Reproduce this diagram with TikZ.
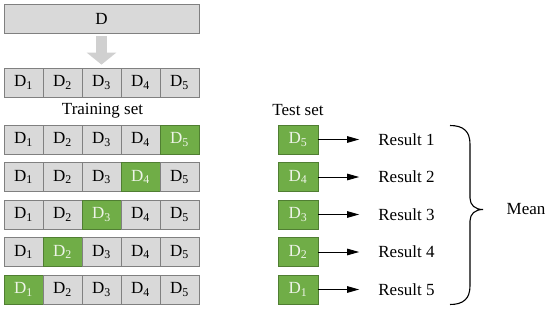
\documentclass[tikz,border=0pt]{standalone}
\usepackage{fontspec}
\setmainfont{Liberation Serif}
\usepackage{tikz}
\usetikzlibrary{positioning, arrows.meta}
\definecolor{cellgray}{HTML}{D9D9D9}
\definecolor{cellborder}{HTML}{808080}
\definecolor{cellgreen}{HTML}{70AD47}
\definecolor{greenborder}{HTML}{507E32}
\definecolor{greentext}{HTML}{EEF4E8}
\definecolor{arrowgray}{HTML}{D0D0D0}
\tikzstyle{gray_cell}=[rectangle, draw=cellborder, fill=cellgray, line width=0.8pt, minimum width=39pt, minimum height=29pt, inner sep=0pt]
\tikzstyle{green_cell}=[gray_cell, draw=greenborder, fill=cellgreen, text=greentext]
\tikzstyle{result_arrow}=[-{Triangle[length=12pt, width=6.5pt]}, line width=0.9pt, shorten >=19pt]

\begin{document}
\begin{tikzpicture}[x=1pt, y=-1pt, font=\fontsize{17}{20}\selectfont]
    \useasboundingbox (0,0) rectangle (550,311);

    \node[gray_cell, minimum width=195pt] at (101.5, 18.5) (D) {D};

    \node[gray_cell] at ( 23.5, 82.5) (p1) {D\textsubscript{1}};
    \node[gray_cell] at ( 62.5, 82.5) (p2) {D\textsubscript{2}};
    \node[gray_cell] at (101.5, 82.5) (p3) {D\textsubscript{3}};
    \node[gray_cell] at (140.5, 82.5) (p4) {D\textsubscript{4}};
    \node[gray_cell] at (179.5, 82.5) (p5) {D\textsubscript{5}};

    \draw[line width=11pt, color=arrowgray, -{Triangle[length=12pt, width=29pt]}, shorten <=3pt, shorten >=3pt] (D.south) -- (p3.north);

    \node[inner sep=0pt] at (102.5, 110.5) (train) {Training set};
    \node[inner sep=0pt] at (298, 110.5) (test) {Test set};

    % folds
    \node[gray_cell] at ( 23.5, 139.5) (f1_1) {D\textsubscript{1}};
    \node[gray_cell] at ( 62.5, 139.5) (f1_2) {D\textsubscript{2}};
    \node[gray_cell] at (101.5, 139.5) (f1_3) {D\textsubscript{3}};
    \node[gray_cell] at (140.5, 139.5) (f1_4) {D\textsubscript{4}};
    \node[green_cell] at (179.5, 139.5) (f1_5) {D\textsubscript{5}};

    \node[gray_cell] at ( 23.5, 177) (f2_1) {D\textsubscript{1}};
    \node[gray_cell] at ( 62.5, 177) (f2_2) {D\textsubscript{2}};
    \node[gray_cell] at (101.5, 177) (f2_3) {D\textsubscript{3}};
    \node[green_cell] at (140.5, 177) (f2_4) {D\textsubscript{4}};
    \node[gray_cell] at (179.5, 177) (f2_5) {D\textsubscript{5}};

    \node[gray_cell] at ( 23.5, 214.5) (f3_1) {D\textsubscript{1}};
    \node[gray_cell] at ( 62.5, 214.5) (f3_2) {D\textsubscript{2}};
    \node[green_cell] at (101.5, 214.5) (f3_3) {D\textsubscript{3}};
    \node[gray_cell] at (140.5, 214.5) (f3_4) {D\textsubscript{4}};
    \node[gray_cell] at (179.5, 214.5) (f3_5) {D\textsubscript{5}};

    \node[gray_cell] at ( 23.5, 252) (f4_1) {D\textsubscript{1}};
    \node[green_cell] at ( 62.5, 252) (f4_2) {D\textsubscript{2}};
    \node[gray_cell] at (101.5, 252) (f4_3) {D\textsubscript{3}};
    \node[gray_cell] at (140.5, 252) (f4_4) {D\textsubscript{4}};
    \node[gray_cell] at (179.5, 252) (f4_5) {D\textsubscript{5}};

    \node[green_cell] at ( 23.5, 289.5) (f5_1) {D\textsubscript{1}};
    \node[gray_cell] at ( 62.5, 289.5) (f5_2) {D\textsubscript{2}};
    \node[gray_cell] at (101.5, 289.5) (f5_3) {D\textsubscript{3}};
    \node[gray_cell] at (140.5, 289.5) (f5_4) {D\textsubscript{4}};
    \node[gray_cell] at (179.5, 289.5) (f5_5) {D\textsubscript{5}};

    % test parts and results
    \node[green_cell, minimum width=40pt] at (298, 139.5) (t1) {D\textsubscript{5}};
    \node[green_cell, minimum width=40pt] at (298, 177) (t2) {D\textsubscript{4}};
    \node[green_cell, minimum width=40pt] at (298, 214.5) (t3) {D\textsubscript{3}};
    \node[green_cell, minimum width=40pt] at (298, 252) (t4) {D\textsubscript{2}};
    \node[green_cell, minimum width=40pt] at (298, 289.5) (t5) {D\textsubscript{1}};

    \node[inner sep=0pt] at (406.5, 139.5) (r1) {Result 1};
    \node[inner sep=0pt] at (406.5, 177) (r2) {Result 2};
    \node[inner sep=0pt] at (406.5, 214.5) (r3) {Result 3};
    \node[inner sep=0pt] at (406.5, 252) (r4) {Result 4};
    \node[inner sep=0pt] at (406.5, 289.5) (r5) {Result 5};

    \draw[result_arrow] (t1) -- (r1);
    \draw[result_arrow] (t2) -- (r2);
    \draw[result_arrow] (t3) -- (r3);
    \draw[result_arrow] (t4) -- (r4);
    \draw[result_arrow] (t5) -- (r5);

    % brace
    \coordinate (brace_top) at (450, 125.5);
    \coordinate (brace_tip) at (483, 209.5);
    \coordinate (brace_bot) at (450, 304.5);
    \draw[line width=1.1pt] (brace_top) .. controls (463,125.5) and (470,131) .. (470,144)
        -- (470,198) .. controls (470,205) and (475,209.5) .. (brace_tip)
        .. controls (475,209.5) and (470,214) .. (470,221)
        -- (470,286) .. controls (470,299) and (463,304.5) .. (brace_bot);
    \node[inner sep=0pt] at (526, 209.5) (mean) {Mean};
\end{tikzpicture}
\end{document}
